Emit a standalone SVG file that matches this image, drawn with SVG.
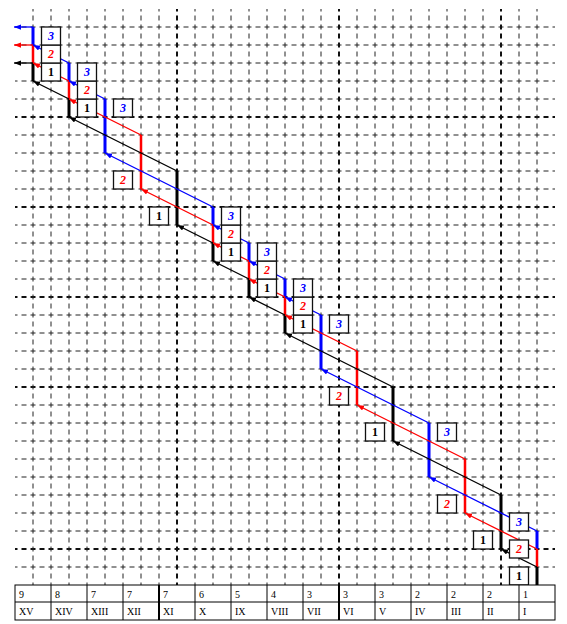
<svg xmlns="http://www.w3.org/2000/svg" width="567" height="624" viewBox="0 0 567 624">
<style>
.g{stroke:#222;stroke-width:1;stroke-dasharray:5 4;stroke-dashoffset:2.5;fill:none}
.gh{stroke:#111;stroke-width:2;stroke-dasharray:5 4;stroke-dashoffset:2.5;fill:none}
.vk{stroke:#000;stroke-width:3;fill:none}
.vr{stroke:#f00;stroke-width:2.5;fill:none}
.vb{stroke:#00f;stroke-width:3;fill:none}
.dk{stroke:#000;stroke-width:1.3;fill:none;marker-end:url(#ak)}
.dr{stroke:#f00;stroke-width:1.3;fill:none;marker-end:url(#ar)}
.db{stroke:#00f;stroke-width:1.3;fill:none;marker-end:url(#ab)}
.box{fill:#fff;stroke:#111;stroke-width:1.3}
.bt{font-family:"Liberation Serif",serif;font-weight:bold;font-size:12px;text-anchor:middle}
.t1{fill:#000}.t2{fill:#f00;font-style:italic}.t3{fill:#00f;font-style:italic}
.tb{fill:#fff;stroke:#000;stroke-width:1}
.tt{font-family:"Liberation Serif",serif;font-size:10px;fill:#000}
</style>
<defs>
<marker id="ak" viewBox="0 0 8 6" refX="8" refY="3" markerWidth="7" markerHeight="5.5" markerUnits="userSpaceOnUse" orient="auto"><path d="M0,0L8,3L0,6z" fill="#000"/></marker>
<marker id="ar" viewBox="0 0 8 6" refX="8" refY="3" markerWidth="7" markerHeight="5.5" markerUnits="userSpaceOnUse" orient="auto"><path d="M0,0L8,3L0,6z" fill="#f00"/></marker>
<marker id="ab" viewBox="0 0 8 6" refX="8" refY="3" markerWidth="7" markerHeight="5.5" markerUnits="userSpaceOnUse" orient="auto"><path d="M0,0L8,3L0,6z" fill="#00f"/></marker>
</defs>
<rect width="567" height="624" fill="#fff"/>
<g id="grid">
<path class="g" d="M15,567H555M15,531H555M15,513H555M15,495H555M15,477H555M15,459H555M15,441H555M15,423H555M15,405H555M15,369H555M15,351H555M15,333H555M15,315H555M15,279H555M15,261H555M15,243H555M15,225H555M15,189H555M15,171H555M15,153H555M15,135H555M15,99H555M15,81H555M15,63H555M15,45H555M15,27H555"/>
<path class="gh" d="M15,549H555M15,387H555M15,297H555M15,207H555M15,117H555"/>
<path class="g" d="M33,9V585M51,9V585M69,9V585M87,9V585M105,9V585M123,9V585M141,9V585M159,9V585M195,9V585M213,9V585M231,9V585M249,9V585M267,9V585M285,9V585M303,9V585M321,9V585M357,9V585M375,9V585M393,9V585M411,9V585M429,9V585M447,9V585M465,9V585M483,9V585M519,9V585M537,9V585"/>
<path class="gh" d="M177,9V585M339,9V585M501,9V585"/>
</g>
<g id="connectors">
<path class="vk" d="M537,585V567M501,549V495M393,441V387M285,333V315M249,297V279M213,261V243M177,225V171M69,117V99M33,81V63"/>
<path class="vr" d="M537,567V549M465,513V459M357,405V351M285,315V297M249,279V261M213,243V225M141,189V135M69,99V81M33,63V45"/>
<path class="vb" d="M537,549V531M429,477V423M321,369V315M285,297V279M249,261V243M213,225V207M105,153V99M69,81V63M33,45V27"/>
<path class="dk" d="M537,567L501,549"/><path class="dk" d="M501,495L393,441"/><path class="dk" d="M393,387L285,333"/><path class="dk" d="M285,315L249,297"/><path class="dk" d="M249,279L213,261"/><path class="dk" d="M213,243L177,225"/><path class="dk" d="M177,171L69,117"/><path class="dk" d="M69,99L33,81"/><path class="dk" d="M33,63H14"/>
<path class="dr" d="M537,549L465,513"/><path class="dr" d="M465,459L357,405"/><path class="dr" d="M357,351L285,315"/><path class="dr" d="M285,297L249,279"/><path class="dr" d="M249,261L213,243"/><path class="dr" d="M213,225L141,189"/><path class="dr" d="M141,135L69,99"/><path class="dr" d="M69,81L33,63"/><path class="dr" d="M33,45H14"/>
<path class="db" d="M537,531L429,477"/><path class="db" d="M429,423L321,369"/><path class="db" d="M321,315L285,297"/><path class="db" d="M285,279L249,261"/><path class="db" d="M249,243L213,225"/><path class="db" d="M213,207L105,153"/><path class="db" d="M105,99L69,81"/><path class="db" d="M69,63L33,45"/><path class="db" d="M33,27H14"/>
</g>
<g id="boxes1">
<g id="b1-1"><rect class="box" x="41.5" y="63" width="19" height="18"/><text class="bt t1" x="51" y="76">1</text></g>
<g id="b1-2"><rect class="box" x="77.5" y="99" width="19" height="18"/><text class="bt t1" x="87" y="112">1</text></g>
<g id="b1-3"><rect class="box" x="149.5" y="207" width="19" height="18"/><text class="bt t1" x="159" y="220">1</text></g>
<g id="b1-4"><rect class="box" x="221.5" y="243" width="19" height="18"/><text class="bt t1" x="231" y="256">1</text></g>
<g id="b1-5"><rect class="box" x="257.5" y="279" width="19" height="18"/><text class="bt t1" x="267" y="292">1</text></g>
<g id="b1-6"><rect class="box" x="293.5" y="315" width="19" height="18"/><text class="bt t1" x="303" y="328">1</text></g>
<g id="b1-7"><rect class="box" x="365.5" y="423" width="19" height="18"/><text class="bt t1" x="375" y="436">1</text></g>
<g id="b1-8"><rect class="box" x="473.5" y="531" width="19" height="18"/><text class="bt t1" x="483" y="544">1</text></g>
<g id="b1-9"><rect class="box" x="509.5" y="567" width="19" height="18"/><text class="bt t1" x="519" y="580">1</text></g>
</g>
<g id="boxes2">
<g id="b2-1"><rect class="box" x="41.5" y="45" width="19" height="18"/><text class="bt t2" x="51" y="58">2</text></g>
<g id="b2-2"><rect class="box" x="77.5" y="81" width="19" height="18"/><text class="bt t2" x="87" y="94">2</text></g>
<g id="b2-3"><rect class="box" x="113.5" y="171" width="19" height="18"/><text class="bt t2" x="123" y="184">2</text></g>
<g id="b2-4"><rect class="box" x="221.5" y="225" width="19" height="18"/><text class="bt t2" x="231" y="238">2</text></g>
<g id="b2-5"><rect class="box" x="257.5" y="261" width="19" height="18"/><text class="bt t2" x="267" y="274">2</text></g>
<g id="b2-6"><rect class="box" x="293.5" y="297" width="19" height="18"/><text class="bt t2" x="303" y="310">2</text></g>
<g id="b2-7"><rect class="box" x="329.5" y="387" width="19" height="18"/><text class="bt t2" x="339" y="400">2</text></g>
<g id="b2-8"><rect class="box" x="437.5" y="495" width="19" height="18"/><text class="bt t2" x="447" y="508">2</text></g>
<g id="b2-9"><rect class="box" x="509.5" y="540" width="19" height="18"/><text class="bt t2" x="519" y="553">2</text></g>
</g>
<g id="boxes3">
<g id="b3-1"><rect class="box" x="41.5" y="27" width="19" height="18"/><text class="bt t3" x="51" y="40">3</text></g>
<g id="b3-2"><rect class="box" x="77.5" y="63" width="19" height="18"/><text class="bt t3" x="87" y="76">3</text></g>
<g id="b3-3"><rect class="box" x="113.5" y="99" width="19" height="18"/><text class="bt t3" x="123" y="112">3</text></g>
<g id="b3-4"><rect class="box" x="221.5" y="207" width="19" height="18"/><text class="bt t3" x="231" y="220">3</text></g>
<g id="b3-5"><rect class="box" x="257.5" y="243" width="19" height="18"/><text class="bt t3" x="267" y="256">3</text></g>
<g id="b3-6"><rect class="box" x="293.5" y="279" width="19" height="18"/><text class="bt t3" x="303" y="292">3</text></g>
<g id="b3-7"><rect class="box" x="329.5" y="315" width="19" height="18"/><text class="bt t3" x="339" y="328">3</text></g>
<g id="b3-8"><rect class="box" x="437.5" y="423" width="19" height="18"/><text class="bt t3" x="447" y="436">3</text></g>
<g id="b3-9"><rect class="box" x="509.5" y="513" width="19" height="18"/><text class="bt t3" x="519" y="526">3</text></g>
</g>
<g id="table">
<rect class="tb" x="15" y="585" width="540" height="35"/>
<path stroke="#000" stroke-width="1" d="M15,602H555M51,585V620M87,585V620M123,585V620M195,585V620M231,585V620M267,585V620M303,585V620M375,585V620M411,585V620M447,585V620M483,585V620M519,585V620"/>
<path stroke="#000" stroke-width="2" d="M159,585V620M339,585V620"/>
<g class="tt">
<text x="19" y="598">9</text><text x="55" y="598">8</text><text x="91" y="598">7</text><text x="127" y="598">7</text><text x="163" y="598">7</text><text x="199" y="598">6</text><text x="235" y="598">5</text><text x="271" y="598">4</text><text x="307" y="598">3</text><text x="343" y="598">3</text><text x="379" y="598">3</text><text x="415" y="598">2</text><text x="451" y="598">2</text><text x="487" y="598">2</text><text x="523" y="598">1</text>
<text x="19" y="615">XV</text><text x="55" y="615">XIV</text><text x="91" y="615">XIII</text><text x="127" y="615">XII</text><text x="163" y="615">XI</text><text x="199" y="615">X</text><text x="235" y="615">IX</text><text x="271" y="615">VIII</text><text x="307" y="615">VII</text><text x="343" y="615">VI</text><text x="379" y="615">V</text><text x="415" y="615">IV</text><text x="451" y="615">III</text><text x="487" y="615">II</text><text x="523" y="615">I</text>
</g>
</g>
</svg>
